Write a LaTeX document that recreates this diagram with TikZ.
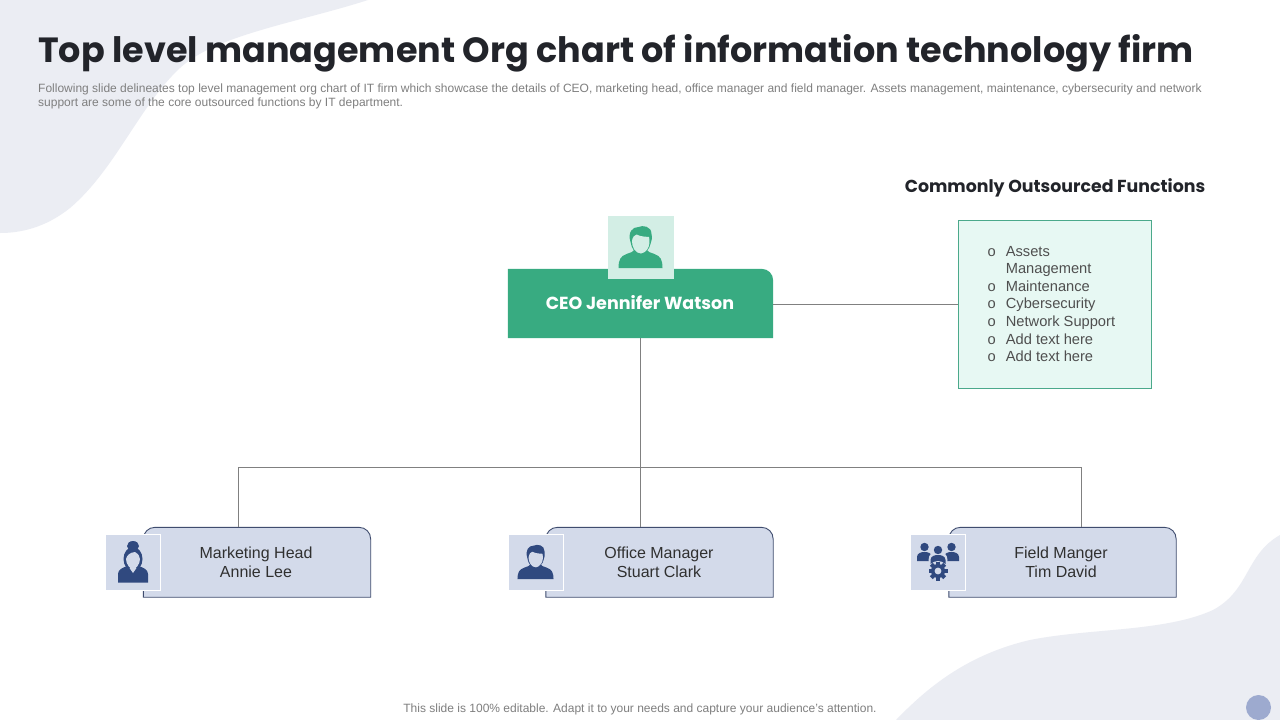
\documentclass[tikz,border=0pt]{standalone}
\usepackage{fontspec}
\setmainfont{Liberation Sans}
\newfontfamily\headfont{Poppins}
\definecolor{blobcol}{HTML}{EBEDF3}
\definecolor{dotcol}{HTML}{9DAACF}
\definecolor{ceogreen}{HTML}{38AB81}
\definecolor{ceopale}{HTML}{D3EEE5}
\definecolor{listfill}{HTML}{E7F8F3}
\definecolor{listedge}{HTML}{4BA98B}
\definecolor{cardfill}{HTML}{D3DAEA}
\definecolor{cardedge}{HTML}{3F4C6E}
\definecolor{navyicon}{HTML}{30497F}
\definecolor{linkcol}{HTML}{808080}
\definecolor{inktext}{HTML}{303030}
\definecolor{titleink}{HTML}{22242A}
\definecolor{greytext}{HTML}{7F7F7F}
\tikzset{
  x=1pt,y=-1pt,
  blob/.style={fill=blobcol,draw=none},
  link/.style={draw=linkcol,line width=0.9pt},
  cardtext/.style={align=center,text=inktext,font=\fontsize{16}{19.3}\selectfont,inner sep=0pt},
  cardshape/.style={fill=cardfill,draw=cardedge,line width=0.9pt},
  iconbox/.style={fill=cardfill,draw=white,line width=0.9pt,inner sep=0pt,minimum width=55pt,minimum height=56pt},
  pics/man/.style 2 args={code={
    \fill[#1] (-22,21) .. controls (-22,13) and (-20,9) .. (-14,7) .. controls (-10,5.5) and (-7,5) .. (-5,2) -- (5,2) .. controls (7,5) and (10,5.5) .. (14,7) .. controls (20,9) and (22,13) .. (22,21) -- cycle;
    \fill[#1] (-10,-5) .. controls (-13,-15) and (-8,-20) .. (-2,-20) .. controls (2,-22) and (11,-21) .. (11,-13) .. controls (12,-9) and (11,-6) .. (10,-3) .. controls (9,2) and (5,7) .. (0,7) .. controls (-5,7) and (-9,2) .. (-10,-5) -- cycle;
    \fill[#2] (-8.5,-6) .. controls (-8,-10) and (-6,-12) .. (-4,-12.5) .. controls (1,-10) and (5,-10.5) .. (8.5,-10) .. controls (9.5,-6) and (9,-1) .. (7,2) .. controls (5,5) and (2,6.5) .. (0.5,6.5) .. controls (-2,6.5) and (-5,5) .. (-6.5,2) .. controls (-8,-1) and (-8.5,-3) .. (-8.5,-6) -- cycle;
  }},
  pics/woman/.style 2 args={code={
    \fill[#1] (-15,20.5) -- (-15,12) .. controls (-15,7) and (-10,6) .. (-6,4) -- (6,4) .. controls (10,6) and (15,7) .. (15,12) -- (15,20.5) -- cycle;
    \fill[#1] (0,-16) ellipse[x radius=6,y radius=5];
    \fill[#1] (0,-3) ellipse[x radius=9.5,y radius=12];
    \fill[#2] (-7,-3) .. controls (-6,-7) and (-3,-9.5) .. (2,-10) .. controls (5,-8) and (7,-6) .. (7,-3) .. controls (7,2) and (3,7) .. (0,7) .. controls (-3,7) and (-7,2) .. (-7,-3) -- cycle;
    \fill[#2] (-3.5,6) -- (0,11) -- (3.5,6) -- cycle;
  }},
  pics/minibody/.style={code={
    \fill[#1] (0,-7) circle[radius=4.2];
    \fill[#1] (-7.5,7) -- (-7.5,3) .. controls (-7.5,-1) and (-3,-2) .. (0,-2) .. controls (3,-2) and (7.5,-1) .. (7.5,3) -- (7.5,7) -- cycle;
  }},
  pics/teamgear/.style 2 args={code={
    \path (-13.5,-8) pic {minibody=#1};
    \path (13.5,-8) pic {minibody=#1};
    \fill[#2] (0,-2) circle[radius=9.5];
    \path (0,-5) pic {minibody=#1};
    \fill[#2] (0,9) circle[radius=10];
    \foreach \a in {0,45,...,315}{\fill[#1,rotate around={\a:(0,9)}] (-2,-0.5) rectangle (2,4);}
    \fill[#1] (0,9) circle[radius=7];
    \fill[#2] (0,9) circle[radius=3.4];
  }},
}
\begin{document}
\begin{tikzpicture}
\useasboundingbox (0,0) rectangle (1280,720);
\fill[white] (0,0) rectangle (1280,720);
% background blobs
\fill[blob] (0,0) -- (368,0) .. controls (300,22) and (215,35) .. (180,68) .. controls (140,105) and (115,170) .. (70,208) .. controls (45,228) and (20,233) .. (0,233) -- cycle;
\fill[blob] (896,720) .. controls (925,690) and (965,655) .. (1030,640) .. controls (1090,628) and (1165,632) .. (1213,610) .. controls (1250,590) and (1245,555) .. (1280,535) -- (1280,720) -- cycle;
\node[circle,fill=dotcol,minimum size=25pt,inner sep=0pt] (dot) at (1258.5,707.5) {};
% title and notes
\node[anchor=west,inner sep=0pt,text=titleink,font=\headfont\bfseries\fontsize{35}{40}\selectfont] (title) at (38,53.5) {Top level management Org chart of information technology firm};
\node[anchor=north west,inner sep=0pt,align=left,text=greytext,font=\fontsize{12}{14}\selectfont] (intro) at (38,83.5) {Following slide delineates top level management org chart of IT firm which showcase the details of CEO, marketing head, office manager and field manager. Assets management, maintenance, cybersecurity and network\\support are some of the core outsourced functions by IT department.};
\node[inner sep=0pt,text=titleink,font=\headfont\bfseries\fontsize{17.35}{22}\selectfont] (functitle) at (1055,188) {Commonly Outsourced Functions};
\node[inner sep=0pt,text=greytext,font=\fontsize{12}{14}\selectfont] (footer) at (640,709) {This slide is 100\% editable. Adapt it to your needs and capture your audience's attention.};
% CEO
\node[inner sep=0pt,minimum width=265pt,minimum height=69pt] (ceo) at (640.5,303.5) {};
\fill[ceogreen] (ceo.south west) -- (ceo.north west) -- ([xshift=-12pt]ceo.north east) .. controls ([xshift=-5pt]ceo.north east) and ([yshift=-5pt]ceo.north east) .. ([yshift=-12pt]ceo.north east) -- (ceo.south east) -- cycle;
\node[fill=ceopale,inner sep=0pt,minimum width=66pt,minimum height=63pt] (ceoicon) at (641,247.5) {};
\path (640.5,247) pic {man={ceogreen}{ceopale}};
\node[inner sep=0pt,text=white,font=\headfont\bfseries\fontsize{17.5}{20}\selectfont] (ceotext) at (640,303) {CEO Jennifer Watson};
% function list
\node[fill=listfill,draw=listedge,line width=0.9pt,inner sep=0pt,minimum width=193pt,minimum height=168pt] (list) at (1055,304.5) {};
\node[anchor=north west,inner sep=0pt,text=inktext!85,font=\fontsize{14.67}{17.6}\selectfont] (listtext) at (987.5,243.5) {\begin{tabular}{@{}l@{\hspace{10pt}}l@{}}
o&Assets\\
&Management\\
o&Maintenance\\
o&Cybersecurity\\
o&Network Support\\
o&Add text here\\
o&Add text here
\end{tabular}};
% cards
\foreach \n/\cx/\ix in {mh/257/133,om/659.5/535.5,fm/1062.5/938}{
  \node[inner sep=0pt,minimum width=227pt,minimum height=69.5pt] (\n) at (\cx,562.25) {};
  \draw[cardshape] (\n.south west) -- ([yshift=-12pt]\n.north west) .. controls ([yshift=-5pt]\n.north west) and ([xshift=5pt]\n.north west) .. ([xshift=12pt]\n.north west) -- ([xshift=-12pt]\n.north east) .. controls ([xshift=-5pt]\n.north east) and ([yshift=-5pt]\n.north east) .. ([yshift=-12pt]\n.north east) -- (\n.south east) -- cycle;
  \node[iconbox] (\n icon) at (\ix,562) {};
}
\path (mhicon.center) pic {woman={navyicon}{cardfill}};
\path (omicon.center) pic[scale=0.82] {man={navyicon}{cardfill}};
\path (fmicon.center) pic {teamgear={navyicon}{cardfill}};
\node[cardtext] (mhtext) at (256,562) {Marketing Head\\Annie Lee};
\node[cardtext] (omtext) at (659,562) {Office Manager\\Stuart Clark};
\node[cardtext] (fmtext) at (1061,562) {Field Manger\\Tim David};
% connectors
\coordinate (busleft) at (238.5,467);
\coordinate (busright) at (1081,467);
\draw[link] (ceo.east |- list.west) -- (list.west);
\draw[link] (ceo.south) -- (ceo.south |- om.north);
\draw[link] (busleft |- mh.north) -- (busleft) -- (busright) -- (busright |- fm.north);
\end{tikzpicture}
\end{document}
